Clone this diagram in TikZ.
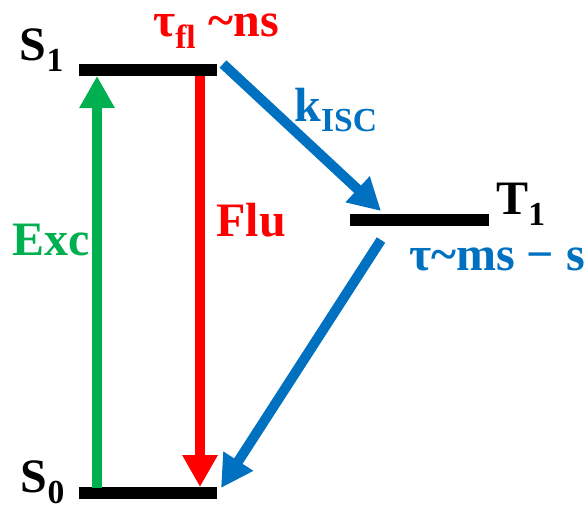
\documentclass[tikz,border=0pt]{standalone}
\usepackage{fontspec}
\setmainfont{Liberation Serif}
\usetikzlibrary{arrows.meta}

\definecolor{excgreen}{RGB}{0,176,80}
\definecolor{flured}{RGB}{255,0,0}
\definecolor{iscblue}{RGB}{0,112,192}

\tikzset{
    level/.style={line width=9pt},
    trans/.style={line width=7.5pt, -{Triangle[width=25pt,length=24pt]}},
    lbl/.style={font=\fontsize{36}{40}\selectfont\bfseries}
}

\begin{document}
\begin{tikzpicture}[x=0.75pt, y=-0.75pt]

    \useasboundingbox (0,0) rectangle (588,512);

    % Energy levels
    \coordinate (s1l) at (79,70);
    \coordinate (s1r) at (217,70);
    \coordinate (s0l) at (79,493);
    \coordinate (s0r) at (217,493);
    \coordinate (t1l) at (350,220);
    \coordinate (t1r) at (489,220);
    \draw[level] (s1l) -- (s1r);
    \draw[level] (s0l) -- (s0r);
    \draw[level] (t1l) -- (t1r);

    % Arrow ends
    \coordinate (excfrom) at (97,488);
    \coordinate (excto) at (97,76);
    \coordinate (flufrom) at (200,76);
    \coordinate (fluto) at (200,487);
    \coordinate (iscfrom) at (223,64);
    \coordinate (iscto) at (381,211);
    \coordinate (phfrom) at (381,240);
    \coordinate (phto) at (221,488);

    % Transitions
    \draw[trans, excgreen] (excfrom) -- (excto);
    \draw[trans, flured] (flufrom) -- (fluto);
    \draw[trans, iscblue] (iscfrom) -- (iscto);
    \draw[trans, iscblue] (phfrom) -- (phto);

    % Labels
    \node[lbl] (s1) at (42,50) {S\textsubscript{1}};
    \node[lbl] (s0) at (43,482) {S\textsubscript{0}};
    \node[lbl] (t1) at (521,204) {T\textsubscript{1}};
    \node[lbl, text=flured] (taufl) at (216,31) {τ\textsubscript{fl} \char"007E{}ns};
    \node[lbl, text=iscblue] (kisc) at (336,110) {k\textsubscript{ISC}};
    \node[lbl, text=iscblue] (taut1) at (497,259) {τ\char"007E{}ms − s};
    \node[lbl, text=excgreen] (exc) at (51,240) {Exc};
    \node[lbl, text=flured] (flu) at (251,220) {Flu};

\end{tikzpicture}
\end{document}
